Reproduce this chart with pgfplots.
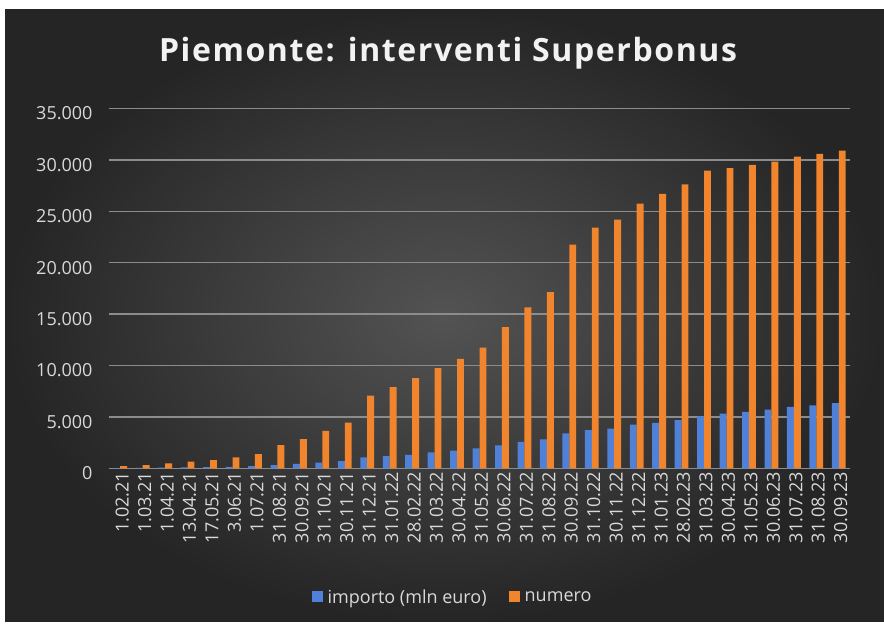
\documentclass[border=0pt]{standalone}
\usepackage{fontspec}
\setmainfont{Open Sans}
\usepackage{pgfplots}
\usepackage{pgfplotstable}
\pgfplotsset{compat=1.18}
\definecolor{bgin}{HTML}{535353}
\definecolor{bgout}{HTML}{252525}
\definecolor{bblue}{HTML}{4F81D9}
\definecolor{borange}{HTML}{F0852D}
\definecolor{txt}{HTML}{D9D9D9}
\definecolor{gridc}{HTML}{8C8C8C}

\pgfplotstableread{
i importo numero
0 20 220
1 35 320
2 60 480
3 80 650
4 110 800
5 150 1060
6 200 1390
7 300 2260
8 420 2840
9 560 3650
10 700 4450
11 1060 7060
12 1190 7900
13 1300 8780
14 1550 9740
15 1710 10650
16 1940 11750
17 2230 13730
18 2580 15650
19 2810 17140
20 3390 21750
21 3710 23400
22 3870 24200
23 4260 25750
24 4420 26700
25 4680 27630
26 5060 28960
27 5320 29200
28 5480 29510
29 5710 29840
30 5970 30320
31 6130 30580
32 6350 30900
}\data

\begin{document}
\begin{tikzpicture}[x=1pt,y=1pt]
\fill[white] (0,0) rectangle (884,626);
\shade[inner color=bgin, outer color=bgout] (5,4) rectangle (884,616);
\node[anchor=base, text=white!95!black, font=\fontsize{32}{37}\selectfont\bfseries\addfontfeature{LetterSpace=5}] at (448,564) {Piemonte: interventi Superbonus};
\begin{axis}[
  at={(109pt,157.7pt)}, anchor=south west,
  scale only axis, width=741pt, height=359.8pt,
  xmin=-0.5, xmax=32.5, ymin=0, ymax=35000,
  ytick={0,5000,...,35000},
  xtick={0,...,32},
  xticklabels={1.02.21,1.03.21,1.04.21,13.04.21,17.05.21,3.06.21,1.07.21,31.08.21,30.09.21,31.10.21,30.11.21,31.12.21,31.01.22,28.02.22,31.03.22,30.04.22,31.05.22,30.06.22,31.07.22,31.08.22,30.09.22,31.10.22,30.11.22,31.12.22,31.01.23,28.02.23,31.03.23,30.04.23,31.05.23,30.06.23,31.07.23,31.08.23,30.09.23},
  scaled y ticks=false,
  /pgf/number format/.cd, 1000 sep={.}, assume math mode=true, /pgfplots/.cd,
  axis line style={draw=none},
  major tick length=0pt,
  ymajorgrids,
  grid style={draw=gridc, line width=1.3pt},
  tick label style={font=\fontsize{18}{20}\selectfont, text=txt},
  yticklabel style={xshift=-13pt, yshift=-5pt},
  xticklabel style={rotate=90, anchor=east, yshift=-2pt},
  legend style={draw=none, fill=none, text=txt, font=\fontsize{18}{20}\selectfont,
    at={(0.4636,-0.3575)}, anchor=center,
    /tikz/every odd column/.append style={column sep=3pt},
    /tikz/every even column/.append style={column sep=20pt}},
  legend columns=2,
  legend image code/.code={\fill[#1] (0pt,-5pt) rectangle (11pt,6pt);},
]
\addplot[ybar, bar width=6.9pt, bar shift=-3.45pt, fill=bblue, draw=none] table[x=i,y=importo]{\data};
\addlegendentry{importo (mln euro)}
\addplot[ybar, bar width=6.9pt, bar shift=3.45pt, fill=borange, draw=none] table[x=i,y=numero]{\data};
\addlegendentry{numero}
\end{axis}
\end{tikzpicture}
\end{document}
